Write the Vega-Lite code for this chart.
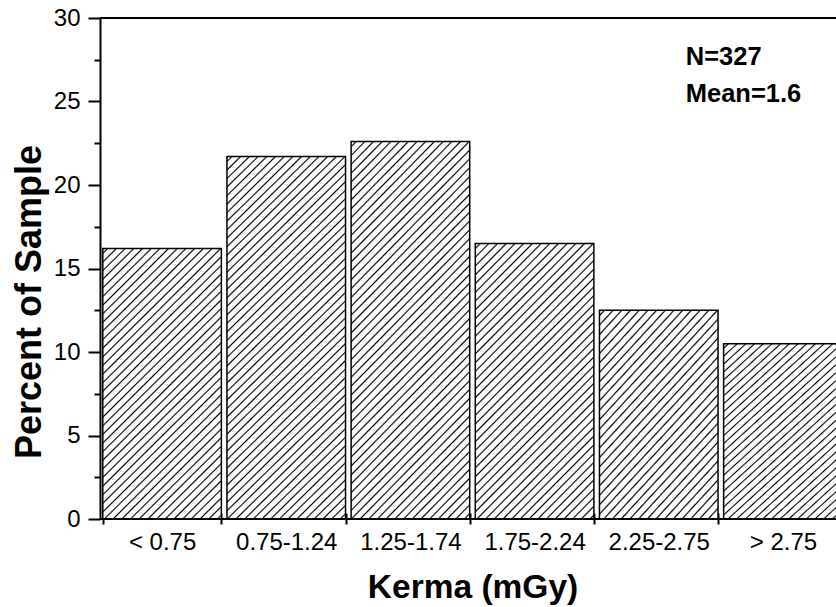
{
  "$schema": "https://vega.github.io/schema/vega-lite/v6.json",
  "width": 736,
  "height": 501,
  "autosize": {"type": "none"},
  "padding": {"left": 100, "top": 18, "right": 0, "bottom": 88},
  "background": "white",
  "config": {"font": "Liberation Sans", "view": {"stroke": null}},
  "layer": [
    {
      "data": {"values": [
        {"Kerma": "< 0.75", "Percent": 16.2},
        {"Kerma": "0.75-1.24", "Percent": 21.7},
        {"Kerma": "1.25-1.74", "Percent": 22.6},
        {"Kerma": "1.75-2.24", "Percent": 16.5},
        {"Kerma": "2.25-2.75", "Percent": 12.5},
        {"Kerma": "> 2.75", "Percent": 10.5}
      ]},
      "mark": {"type": "bar", "stroke": "black", "strokeWidth": 1.5, "clip": true},
      "encoding": {
        "x": {
          "field": "Kerma", "type": "nominal", "sort": null,
          "scale": {"range": [0, 745], "paddingInner": 0.045, "paddingOuter": 0.0225},
          "axis": {
            "title": "Kerma (mGy)", "titleFontSize": 33.5, "titleFontWeight": "bold", "titleColor": "black",
            "titleY": 84, "titleBaseline": "alphabetic",
            "tickBand": "extent", "tickSize": 11, "tickWidth": 2, "tickColor": "black",
            "offset": -6, "domain": false,
            "labelFontSize": 24, "labelPadding": 6, "labelAngle": 0, "labelColor": "black", "labelOverlap": false
          }
        },
        "y": {
          "field": "Percent", "type": "quantitative",
          "scale": {"domain": [0, 30], "nice": false},
          "axis": {
            "title": "Percent of Sample", "titleFontSize": 36, "titleFontWeight": "bold", "titleColor": "black",
            "titleX": -60, "titleY": 283.5, "titleAngle": -90, "titleAlign": "center", "titleBaseline": "alphabetic",
            "values": [0, 2.5, 5, 7.5, 10, 12.5, 15, 17.5, 20, 22.5, 25, 27.5, 30],
            "labelExpr": "datum.value % 5 == 0 ? datum.label : ''",
            "tickSize": {"condition": {"test": "datum.value % 5 != 0", "value": 6}, "value": 12},
            "tickWidth": 2, "tickColor": "black",
            "domainColor": "black", "domainWidth": 2,
            "labelFontSize": 24, "labelPadding": 8, "labelColor": "black", "grid": false
          }
        },
        "fill": {
          "condition": [
            {
              "test": "datum.Kerma == '< 0.75' || datum.Kerma == '1.75-2.24'",
              "value": {"gradient": "linear", "x1": 0, "y1": 0, "x2": 0.6653, "y2": 1.5315, "stops": [
{"offset":0.0068,"color":"#fff"},{"offset":0.01,"color":"#000"},{"offset":0.0132,"color":"#fff"},
{"offset":0.0243,"color":"#fff"},{"offset":0.0275,"color":"#000"},{"offset":0.0307,"color":"#fff"},
{"offset":0.0418,"color":"#fff"},{"offset":0.045,"color":"#000"},{"offset":0.0482,"color":"#fff"},
{"offset":0.0593,"color":"#fff"},{"offset":0.0625,"color":"#000"},{"offset":0.0657,"color":"#fff"},
{"offset":0.0768,"color":"#fff"},{"offset":0.08,"color":"#000"},{"offset":0.0832,"color":"#fff"},
{"offset":0.0943,"color":"#fff"},{"offset":0.0975,"color":"#000"},{"offset":0.1007,"color":"#fff"},
{"offset":0.1118,"color":"#fff"},{"offset":0.115,"color":"#000"},{"offset":0.1182,"color":"#fff"},
{"offset":0.1293,"color":"#fff"},{"offset":0.1325,"color":"#000"},{"offset":0.1357,"color":"#fff"},
{"offset":0.1468,"color":"#fff"},{"offset":0.15,"color":"#000"},{"offset":0.1532,"color":"#fff"},
{"offset":0.1643,"color":"#fff"},{"offset":0.1675,"color":"#000"},{"offset":0.1707,"color":"#fff"},
{"offset":0.1818,"color":"#fff"},{"offset":0.185,"color":"#000"},{"offset":0.1882,"color":"#fff"},
{"offset":0.1993,"color":"#fff"},{"offset":0.2025,"color":"#000"},{"offset":0.2057,"color":"#fff"},
{"offset":0.2168,"color":"#fff"},{"offset":0.22,"color":"#000"},{"offset":0.2232,"color":"#fff"},
{"offset":0.2343,"color":"#fff"},{"offset":0.2375,"color":"#000"},{"offset":0.2407,"color":"#fff"},
{"offset":0.2518,"color":"#fff"},{"offset":0.255,"color":"#000"},{"offset":0.2582,"color":"#fff"},
{"offset":0.2693,"color":"#fff"},{"offset":0.2725,"color":"#000"},{"offset":0.2757,"color":"#fff"},
{"offset":0.2868,"color":"#fff"},{"offset":0.29,"color":"#000"},{"offset":0.2932,"color":"#fff"},
{"offset":0.3043,"color":"#fff"},{"offset":0.3075,"color":"#000"},{"offset":0.3107,"color":"#fff"},
{"offset":0.3218,"color":"#fff"},{"offset":0.325,"color":"#000"},{"offset":0.3282,"color":"#fff"},
{"offset":0.3393,"color":"#fff"},{"offset":0.3425,"color":"#000"},{"offset":0.3457,"color":"#fff"},
{"offset":0.3568,"color":"#fff"},{"offset":0.36,"color":"#000"},{"offset":0.3632,"color":"#fff"},
{"offset":0.3743,"color":"#fff"},{"offset":0.3775,"color":"#000"},{"offset":0.3807,"color":"#fff"},
{"offset":0.3918,"color":"#fff"},{"offset":0.395,"color":"#000"},{"offset":0.3982,"color":"#fff"},
{"offset":0.4093,"color":"#fff"},{"offset":0.4125,"color":"#000"},{"offset":0.4157,"color":"#fff"},
{"offset":0.4268,"color":"#fff"},{"offset":0.43,"color":"#000"},{"offset":0.4332,"color":"#fff"},
{"offset":0.4443,"color":"#fff"},{"offset":0.4475,"color":"#000"},{"offset":0.4507,"color":"#fff"},
{"offset":0.4618,"color":"#fff"},{"offset":0.465,"color":"#000"},{"offset":0.4682,"color":"#fff"},
{"offset":0.4793,"color":"#fff"},{"offset":0.4825,"color":"#000"},{"offset":0.4857,"color":"#fff"},
{"offset":0.4968,"color":"#fff"},{"offset":0.5,"color":"#000"},{"offset":0.5032,"color":"#fff"},
{"offset":0.5143,"color":"#fff"},{"offset":0.5175,"color":"#000"},{"offset":0.5207,"color":"#fff"},
{"offset":0.5318,"color":"#fff"},{"offset":0.535,"color":"#000"},{"offset":0.5382,"color":"#fff"},
{"offset":0.5493,"color":"#fff"},{"offset":0.5525,"color":"#000"},{"offset":0.5557,"color":"#fff"},
{"offset":0.5668,"color":"#fff"},{"offset":0.57,"color":"#000"},{"offset":0.5732,"color":"#fff"},
{"offset":0.5843,"color":"#fff"},{"offset":0.5875,"color":"#000"},{"offset":0.5907,"color":"#fff"},
{"offset":0.6018,"color":"#fff"},{"offset":0.605,"color":"#000"},{"offset":0.6082,"color":"#fff"},
{"offset":0.6193,"color":"#fff"},{"offset":0.6225,"color":"#000"},{"offset":0.6257,"color":"#fff"},
{"offset":0.6368,"color":"#fff"},{"offset":0.64,"color":"#000"},{"offset":0.6432,"color":"#fff"},
{"offset":0.6543,"color":"#fff"},{"offset":0.6575,"color":"#000"},{"offset":0.6607,"color":"#fff"},
{"offset":0.6718,"color":"#fff"},{"offset":0.675,"color":"#000"},{"offset":0.6782,"color":"#fff"},
{"offset":0.6893,"color":"#fff"},{"offset":0.6925,"color":"#000"},{"offset":0.6957,"color":"#fff"},
{"offset":0.7068,"color":"#fff"},{"offset":0.71,"color":"#000"},{"offset":0.7132,"color":"#fff"},
{"offset":0.7243,"color":"#fff"},{"offset":0.7275,"color":"#000"},{"offset":0.7307,"color":"#fff"},
{"offset":0.7418,"color":"#fff"},{"offset":0.745,"color":"#000"},{"offset":0.7482,"color":"#fff"},
{"offset":0.7593,"color":"#fff"},{"offset":0.7625,"color":"#000"},{"offset":0.7657,"color":"#fff"},
{"offset":0.7768,"color":"#fff"},{"offset":0.78,"color":"#000"},{"offset":0.7832,"color":"#fff"},
{"offset":0.7943,"color":"#fff"},{"offset":0.7975,"color":"#000"},{"offset":0.8007,"color":"#fff"}
              ]}
            },
            {
              "test": "datum.Kerma == '0.75-1.24' || datum.Kerma == '1.25-1.74'",
              "value": {"gradient": "linear", "x1": 0, "y1": 0, "x2": 0.3904, "y2": 1.2181, "stops": [
{"offset":0.0068,"color":"#fff"},{"offset":0.01,"color":"#000"},{"offset":0.0132,"color":"#fff"},
{"offset":0.0243,"color":"#fff"},{"offset":0.0275,"color":"#000"},{"offset":0.0307,"color":"#fff"},
{"offset":0.0418,"color":"#fff"},{"offset":0.045,"color":"#000"},{"offset":0.0482,"color":"#fff"},
{"offset":0.0593,"color":"#fff"},{"offset":0.0625,"color":"#000"},{"offset":0.0657,"color":"#fff"},
{"offset":0.0768,"color":"#fff"},{"offset":0.08,"color":"#000"},{"offset":0.0832,"color":"#fff"},
{"offset":0.0943,"color":"#fff"},{"offset":0.0975,"color":"#000"},{"offset":0.1007,"color":"#fff"},
{"offset":0.1118,"color":"#fff"},{"offset":0.115,"color":"#000"},{"offset":0.1182,"color":"#fff"},
{"offset":0.1293,"color":"#fff"},{"offset":0.1325,"color":"#000"},{"offset":0.1357,"color":"#fff"},
{"offset":0.1468,"color":"#fff"},{"offset":0.15,"color":"#000"},{"offset":0.1532,"color":"#fff"},
{"offset":0.1643,"color":"#fff"},{"offset":0.1675,"color":"#000"},{"offset":0.1707,"color":"#fff"},
{"offset":0.1818,"color":"#fff"},{"offset":0.185,"color":"#000"},{"offset":0.1882,"color":"#fff"},
{"offset":0.1993,"color":"#fff"},{"offset":0.2025,"color":"#000"},{"offset":0.2057,"color":"#fff"},
{"offset":0.2168,"color":"#fff"},{"offset":0.22,"color":"#000"},{"offset":0.2232,"color":"#fff"},
{"offset":0.2343,"color":"#fff"},{"offset":0.2375,"color":"#000"},{"offset":0.2407,"color":"#fff"},
{"offset":0.2518,"color":"#fff"},{"offset":0.255,"color":"#000"},{"offset":0.2582,"color":"#fff"},
{"offset":0.2693,"color":"#fff"},{"offset":0.2725,"color":"#000"},{"offset":0.2757,"color":"#fff"},
{"offset":0.2868,"color":"#fff"},{"offset":0.29,"color":"#000"},{"offset":0.2932,"color":"#fff"},
{"offset":0.3043,"color":"#fff"},{"offset":0.3075,"color":"#000"},{"offset":0.3107,"color":"#fff"},
{"offset":0.3218,"color":"#fff"},{"offset":0.325,"color":"#000"},{"offset":0.3282,"color":"#fff"},
{"offset":0.3393,"color":"#fff"},{"offset":0.3425,"color":"#000"},{"offset":0.3457,"color":"#fff"},
{"offset":0.3568,"color":"#fff"},{"offset":0.36,"color":"#000"},{"offset":0.3632,"color":"#fff"},
{"offset":0.3743,"color":"#fff"},{"offset":0.3775,"color":"#000"},{"offset":0.3807,"color":"#fff"},
{"offset":0.3918,"color":"#fff"},{"offset":0.395,"color":"#000"},{"offset":0.3982,"color":"#fff"},
{"offset":0.4093,"color":"#fff"},{"offset":0.4125,"color":"#000"},{"offset":0.4157,"color":"#fff"},
{"offset":0.4268,"color":"#fff"},{"offset":0.43,"color":"#000"},{"offset":0.4332,"color":"#fff"},
{"offset":0.4443,"color":"#fff"},{"offset":0.4475,"color":"#000"},{"offset":0.4507,"color":"#fff"},
{"offset":0.4618,"color":"#fff"},{"offset":0.465,"color":"#000"},{"offset":0.4682,"color":"#fff"},
{"offset":0.4793,"color":"#fff"},{"offset":0.4825,"color":"#000"},{"offset":0.4857,"color":"#fff"},
{"offset":0.4968,"color":"#fff"},{"offset":0.5,"color":"#000"},{"offset":0.5032,"color":"#fff"},
{"offset":0.5143,"color":"#fff"},{"offset":0.5175,"color":"#000"},{"offset":0.5207,"color":"#fff"},
{"offset":0.5318,"color":"#fff"},{"offset":0.535,"color":"#000"},{"offset":0.5382,"color":"#fff"},
{"offset":0.5493,"color":"#fff"},{"offset":0.5525,"color":"#000"},{"offset":0.5557,"color":"#fff"},
{"offset":0.5668,"color":"#fff"},{"offset":0.57,"color":"#000"},{"offset":0.5732,"color":"#fff"},
{"offset":0.5843,"color":"#fff"},{"offset":0.5875,"color":"#000"},{"offset":0.5907,"color":"#fff"},
{"offset":0.6018,"color":"#fff"},{"offset":0.605,"color":"#000"},{"offset":0.6082,"color":"#fff"},
{"offset":0.6193,"color":"#fff"},{"offset":0.6225,"color":"#000"},{"offset":0.6257,"color":"#fff"},
{"offset":0.6368,"color":"#fff"},{"offset":0.64,"color":"#000"},{"offset":0.6432,"color":"#fff"},
{"offset":0.6543,"color":"#fff"},{"offset":0.6575,"color":"#000"},{"offset":0.6607,"color":"#fff"},
{"offset":0.6718,"color":"#fff"},{"offset":0.675,"color":"#000"},{"offset":0.6782,"color":"#fff"},
{"offset":0.6893,"color":"#fff"},{"offset":0.6925,"color":"#000"},{"offset":0.6957,"color":"#fff"},
{"offset":0.7068,"color":"#fff"},{"offset":0.71,"color":"#000"},{"offset":0.7132,"color":"#fff"},
{"offset":0.7243,"color":"#fff"},{"offset":0.7275,"color":"#000"},{"offset":0.7307,"color":"#fff"},
{"offset":0.7418,"color":"#fff"},{"offset":0.745,"color":"#000"},{"offset":0.7482,"color":"#fff"},
{"offset":0.7593,"color":"#fff"},{"offset":0.7625,"color":"#000"},{"offset":0.7657,"color":"#fff"},
{"offset":0.7768,"color":"#fff"},{"offset":0.78,"color":"#000"},{"offset":0.7832,"color":"#fff"},
{"offset":0.7943,"color":"#fff"},{"offset":0.7975,"color":"#000"},{"offset":0.8007,"color":"#fff"},
{"offset":0.8118,"color":"#fff"},{"offset":0.815,"color":"#000"},{"offset":0.8182,"color":"#fff"},
{"offset":0.8293,"color":"#fff"},{"offset":0.8325,"color":"#000"},{"offset":0.8357,"color":"#fff"},
{"offset":0.8468,"color":"#fff"},{"offset":0.85,"color":"#000"},{"offset":0.8532,"color":"#fff"},
{"offset":0.8643,"color":"#fff"},{"offset":0.8675,"color":"#000"},{"offset":0.8707,"color":"#fff"},
{"offset":0.8818,"color":"#fff"},{"offset":0.885,"color":"#000"},{"offset":0.8882,"color":"#fff"},
{"offset":0.8993,"color":"#fff"},{"offset":0.9025,"color":"#000"},{"offset":0.9057,"color":"#fff"},
{"offset":0.9168,"color":"#fff"},{"offset":0.92,"color":"#000"},{"offset":0.9232,"color":"#fff"},
{"offset":0.9343,"color":"#fff"},{"offset":0.9375,"color":"#000"},{"offset":0.9407,"color":"#fff"},
{"offset":0.9518,"color":"#fff"},{"offset":0.955,"color":"#000"},{"offset":0.9582,"color":"#fff"},
{"offset":0.9693,"color":"#fff"},{"offset":0.9725,"color":"#000"},{"offset":0.9757,"color":"#fff"},
{"offset":0.9868,"color":"#fff"},{"offset":0.99,"color":"#000"},{"offset":0.9932,"color":"#fff"}
              ]}
            }
          ],
          "value": {"gradient": "linear", "x1": 0, "y1": 0, "x2": 1.1574, "y2": 1.8736, "stops": [
{"offset":0.0068,"color":"#fff"},{"offset":0.01,"color":"#000"},{"offset":0.0132,"color":"#fff"},
{"offset":0.0243,"color":"#fff"},{"offset":0.0275,"color":"#000"},{"offset":0.0307,"color":"#fff"},
{"offset":0.0418,"color":"#fff"},{"offset":0.045,"color":"#000"},{"offset":0.0482,"color":"#fff"},
{"offset":0.0593,"color":"#fff"},{"offset":0.0625,"color":"#000"},{"offset":0.0657,"color":"#fff"},
{"offset":0.0768,"color":"#fff"},{"offset":0.08,"color":"#000"},{"offset":0.0832,"color":"#fff"},
{"offset":0.0943,"color":"#fff"},{"offset":0.0975,"color":"#000"},{"offset":0.1007,"color":"#fff"},
{"offset":0.1118,"color":"#fff"},{"offset":0.115,"color":"#000"},{"offset":0.1182,"color":"#fff"},
{"offset":0.1293,"color":"#fff"},{"offset":0.1325,"color":"#000"},{"offset":0.1357,"color":"#fff"},
{"offset":0.1468,"color":"#fff"},{"offset":0.15,"color":"#000"},{"offset":0.1532,"color":"#fff"},
{"offset":0.1643,"color":"#fff"},{"offset":0.1675,"color":"#000"},{"offset":0.1707,"color":"#fff"},
{"offset":0.1818,"color":"#fff"},{"offset":0.185,"color":"#000"},{"offset":0.1882,"color":"#fff"},
{"offset":0.1993,"color":"#fff"},{"offset":0.2025,"color":"#000"},{"offset":0.2057,"color":"#fff"},
{"offset":0.2168,"color":"#fff"},{"offset":0.22,"color":"#000"},{"offset":0.2232,"color":"#fff"},
{"offset":0.2343,"color":"#fff"},{"offset":0.2375,"color":"#000"},{"offset":0.2407,"color":"#fff"},
{"offset":0.2518,"color":"#fff"},{"offset":0.255,"color":"#000"},{"offset":0.2582,"color":"#fff"},
{"offset":0.2693,"color":"#fff"},{"offset":0.2725,"color":"#000"},{"offset":0.2757,"color":"#fff"},
{"offset":0.2868,"color":"#fff"},{"offset":0.29,"color":"#000"},{"offset":0.2932,"color":"#fff"},
{"offset":0.3043,"color":"#fff"},{"offset":0.3075,"color":"#000"},{"offset":0.3107,"color":"#fff"},
{"offset":0.3218,"color":"#fff"},{"offset":0.325,"color":"#000"},{"offset":0.3282,"color":"#fff"},
{"offset":0.3393,"color":"#fff"},{"offset":0.3425,"color":"#000"},{"offset":0.3457,"color":"#fff"},
{"offset":0.3568,"color":"#fff"},{"offset":0.36,"color":"#000"},{"offset":0.3632,"color":"#fff"},
{"offset":0.3743,"color":"#fff"},{"offset":0.3775,"color":"#000"},{"offset":0.3807,"color":"#fff"},
{"offset":0.3918,"color":"#fff"},{"offset":0.395,"color":"#000"},{"offset":0.3982,"color":"#fff"},
{"offset":0.4093,"color":"#fff"},{"offset":0.4125,"color":"#000"},{"offset":0.4157,"color":"#fff"},
{"offset":0.4268,"color":"#fff"},{"offset":0.43,"color":"#000"},{"offset":0.4332,"color":"#fff"},
{"offset":0.4443,"color":"#fff"},{"offset":0.4475,"color":"#000"},{"offset":0.4507,"color":"#fff"},
{"offset":0.4618,"color":"#fff"},{"offset":0.465,"color":"#000"},{"offset":0.4682,"color":"#fff"},
{"offset":0.4793,"color":"#fff"},{"offset":0.4825,"color":"#000"},{"offset":0.4857,"color":"#fff"},
{"offset":0.4968,"color":"#fff"},{"offset":0.5,"color":"#000"},{"offset":0.5032,"color":"#fff"},
{"offset":0.5143,"color":"#fff"},{"offset":0.5175,"color":"#000"},{"offset":0.5207,"color":"#fff"},
{"offset":0.5318,"color":"#fff"},{"offset":0.535,"color":"#000"},{"offset":0.5382,"color":"#fff"},
{"offset":0.5493,"color":"#fff"},{"offset":0.5525,"color":"#000"},{"offset":0.5557,"color":"#fff"},
{"offset":0.5668,"color":"#fff"},{"offset":0.57,"color":"#000"},{"offset":0.5732,"color":"#fff"},
{"offset":0.5843,"color":"#fff"},{"offset":0.5875,"color":"#000"},{"offset":0.5907,"color":"#fff"},
{"offset":0.6018,"color":"#fff"},{"offset":0.605,"color":"#000"},{"offset":0.6082,"color":"#fff"},
{"offset":0.6193,"color":"#fff"},{"offset":0.6225,"color":"#000"},{"offset":0.6257,"color":"#fff"},
{"offset":0.6368,"color":"#fff"},{"offset":0.64,"color":"#000"},{"offset":0.6432,"color":"#fff"}
          ]}
        }
      }
    },
    {
      "data": {"values": [{"Percent": 0}, {"Percent": 30}]},
      "mark": {"type": "rule", "color": "black", "strokeWidth": 2},
      "encoding": {"y": {"field": "Percent", "type": "quantitative"}}
    },
    {
      "data": {"values": [
        {"label": "N=327", "Kerma": "2.25-2.75", "Percent": 27.2},
        {"label": "Mean=1.6", "Kerma": "2.25-2.75", "Percent": 25.0}
      ]},
      "mark": {"type": "text", "align": "left", "baseline": "alphabetic", "dx": 27, "fontSize": 25.5, "fontWeight": "bold", "color": "black"},
      "encoding": {
        "x": {"field": "Kerma", "type": "nominal", "sort": null},
        "y": {"field": "Percent", "type": "quantitative"},
        "text": {"field": "label"}
      }
    }
  ]
}
